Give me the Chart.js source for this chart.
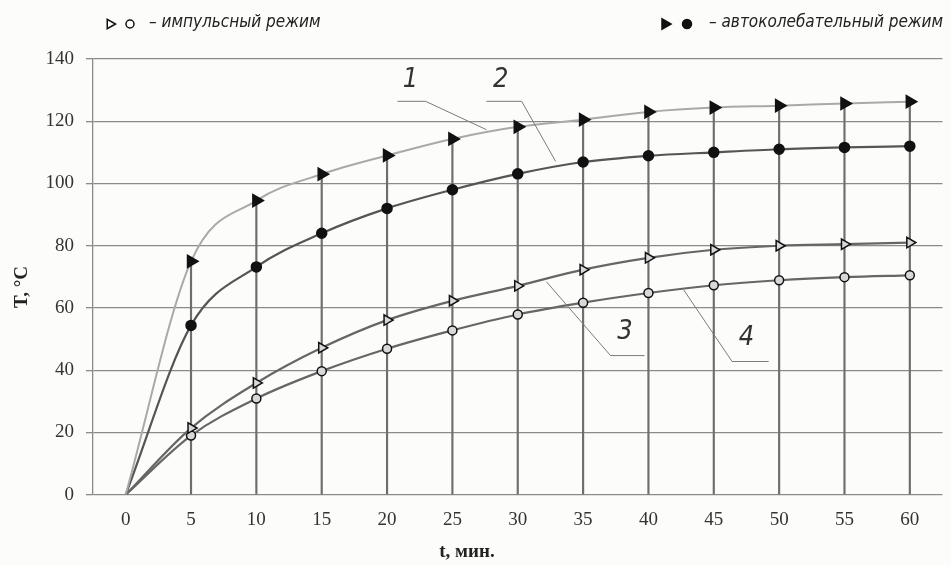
<!DOCTYPE html>
<html>
<head>
<meta charset="utf-8">
<script src="https://cdn.jsdelivr.net/npm/chart.js@4.4.1/dist/chart.umd.min.js"></script>
<style>
  body { margin: 0; background: #fcfcfa; }
  #wrap { width: 951px; height: 565px; }
</style>
</head>
<body>
<div id="wrap"><canvas id="chart" width="951" height="565"></canvas></div>
<script>
const times = [0, 5, 10, 15, 20, 25, 30, 35, 40, 45, 50, 55, 60];
const curve1 = [0, 75, 94.5, 103, 109, 114.3, 118.2, 120.5, 123, 124.4, 125, 125.7, 126.3];
const curve2 = [0, 54.4, 73.2, 84, 92, 98, 103.1, 106.9, 108.9, 110, 111, 111.6, 112];
const curve3 = [0, 21.4, 35.9, 47.2, 56.1, 62.3, 67.1, 72.3, 76.1, 78.7, 80, 80.5, 81];
const curve4 = [0, 19, 30.9, 39.7, 46.9, 52.8, 57.9, 61.7, 64.8, 67.3, 68.9, 69.9, 70.5];
const xTicks = [0, 5, 10, 15, 20, 25, 30, 35, 40, 45, 50, 55, 60];
const yTicks = [0, 20, 40, 60, 80, 100, 120, 140];
const curveNames = ["1", "2", "3", "4"];

const legendPulse = "– импульсный режим";
const legendAuto = "– автоколебательный режим";
const yTitle = "T, °C";
const xTitle = "t, мин.";

const GRID = "#8a8a8a";
const SERIF = "'Liberation Serif', 'Times New Roman', serif";
const narrowItalic = "italic 17px 'DejaVu Sans Condensed', 'DejaVu Sans', sans-serif";

// leader lines for the curve numbers, in data units
const leaders = [
  { text: [21.8, 133.2], path: [[20.8, 126.4], [22.95, 126.4], [27.6, 117.3]] },
  { text: [28.7, 133.2], path: [[27.6, 126.4], [30.3, 126.4], [32.9, 107.1]] },
  { text: [38.2, 52.2], path: [[32.2, 68.4], [37.1, 44.7], [39.7, 44.7]] },
  { text: [47.5, 50.5], path: [[42.7, 65.8], [46.4, 42.8], [49.2, 42.8]] },
];

const pts = arr => times.map((t, i) => ({ x: t, y: arr[i] }));
const hideFirst = r => ctx => (ctx.dataIndex === 0 ? 0 : r);

function lineSet(values, color, width, style, fill, radius, rotation) {
  return {
    type: "line",
    data: pts(values),
    borderColor: color,
    borderWidth: width,
    cubicInterpolationMode: "monotone",
    pointStyle: style,
    pointRotation: rotation,
    pointRadius: hideFirst(radius),
    pointBackgroundColor: fill,
    pointBorderColor: "#111",
    pointBorderWidth: 1.5,
    order: 1,
  };
}

const overlay = {
  id: "overlay",
  afterDatasetsDraw(chart) {
    const { ctx, scales: { x, y } } = chart;
    ctx.save();
    ctx.strokeStyle = "#7a7a7a";
    ctx.lineWidth = 1;
    ctx.fillStyle = "#333";
    ctx.font = "italic 27px 'DejaVu Sans Condensed', 'DejaVu Sans', sans-serif";
    ctx.textAlign = "center";
    ctx.textBaseline = "middle";
    leaders.forEach((l, i) => {
      ctx.beginPath();
      l.path.forEach(([px, py], j) => {
        const X = x.getPixelForValue(px), Y = y.getPixelForValue(py);
        j ? ctx.lineTo(X, Y) : ctx.moveTo(X, Y);
      });
      ctx.stroke();
      ctx.fillText(curveNames[i], x.getPixelForValue(l.text[0]), y.getPixelForValue(l.text[1]));
    });
    ctx.restore();
  },
  afterDraw(chart) {
    const { ctx } = chart;
    const draw = Chart.helpers.drawPoint;
    ctx.save();
    // legend
    ctx.lineWidth = 1.5;
    ctx.strokeStyle = "#111";
    ctx.fillStyle = "#fff";
    draw(ctx, { pointStyle: "triangle", radius: 5.5, rotation: 90, borderWidth: 1.6 }, 110, 24);
    draw(ctx, { pointStyle: "circle", radius: 4, borderWidth: 1.6 }, 130, 24);
    ctx.fillStyle = "#111";
    draw(ctx, { pointStyle: "triangle", radius: 6, rotation: 90, borderWidth: 1 }, 665, 24);
    draw(ctx, { pointStyle: "circle", radius: 4.5, borderWidth: 1 }, 687, 24);
    ctx.fillStyle = "#222";
    ctx.font = narrowItalic;
    ctx.textAlign = "left";
    ctx.textBaseline = "middle";
    ctx.fillText(legendPulse, 149, 23);
    ctx.fillText(legendAuto, 709, 23);
    // axis titles
    ctx.font = "bold 19px " + SERIF;
    ctx.textAlign = "center";
    ctx.fillText(xTitle, 467, 552);
    ctx.translate(22, 287);
    ctx.rotate(-Math.PI / 2);
    ctx.fillText(yTitle, 0, 0);
    ctx.restore();
  },
};

new Chart(document.getElementById("chart"), {
  type: "line",
  data: {
    datasets: [
      lineSet(curve1, "#a9a9a9", 2, "triangle", "#111", 7, 90),
      lineSet(curve2, "#555", 2.2, "circle", "#111", 5, 0),
      lineSet(curve3, "#666", 2.2, "triangle", "#d8d8d8", 6, 90),
      lineSet(curve4, "#666", 2.2, "circle", "#d8d8d8", 4.5, 0),
      {
        type: "bar",
        data: pts(curve1).slice(1),
        backgroundColor: "#6e6e6e",
        barThickness: 1.5,
        order: 5,
      },
    ],
  },
  options: {
    responsive: false,
    animation: false,
    layout: { padding: { top: 59, right: 6, left: 0, bottom: 0 } },
    plugins: { legend: { display: false }, tooltip: { enabled: false } },
    scales: {
      x: {
        type: "linear",
        min: -2.5,
        max: 62.5,
        offset: false,
        afterBuildTicks: s => { s.ticks = xTicks.map(v => ({ value: v })); },
        afterFit: s => { s.height = 70.3; },
        grid: { display: false, drawTicks: false },
        border: { display: false },
        ticks: {
          color: "#333",
          padding: 14,
          maxRotation: 0,
          font: { family: SERIF, size: 19 },
        },
      },
      y: {
        min: 0,
        max: 140,
        afterBuildTicks: s => { s.ticks = yTicks.map(v => ({ value: v })); },
        afterFit: s => { s.width = 93; },
        grid: { color: GRID, lineWidth: 1.3, tickLength: 7 },
        border: { display: true, color: GRID, width: 1.3 },
        ticks: {
          color: "#333",
          padding: 12,
          font: { family: SERIF, size: 19 },
        },
      },
    },
  },
  plugins: [overlay],
});
</script>
</body>
</html>
